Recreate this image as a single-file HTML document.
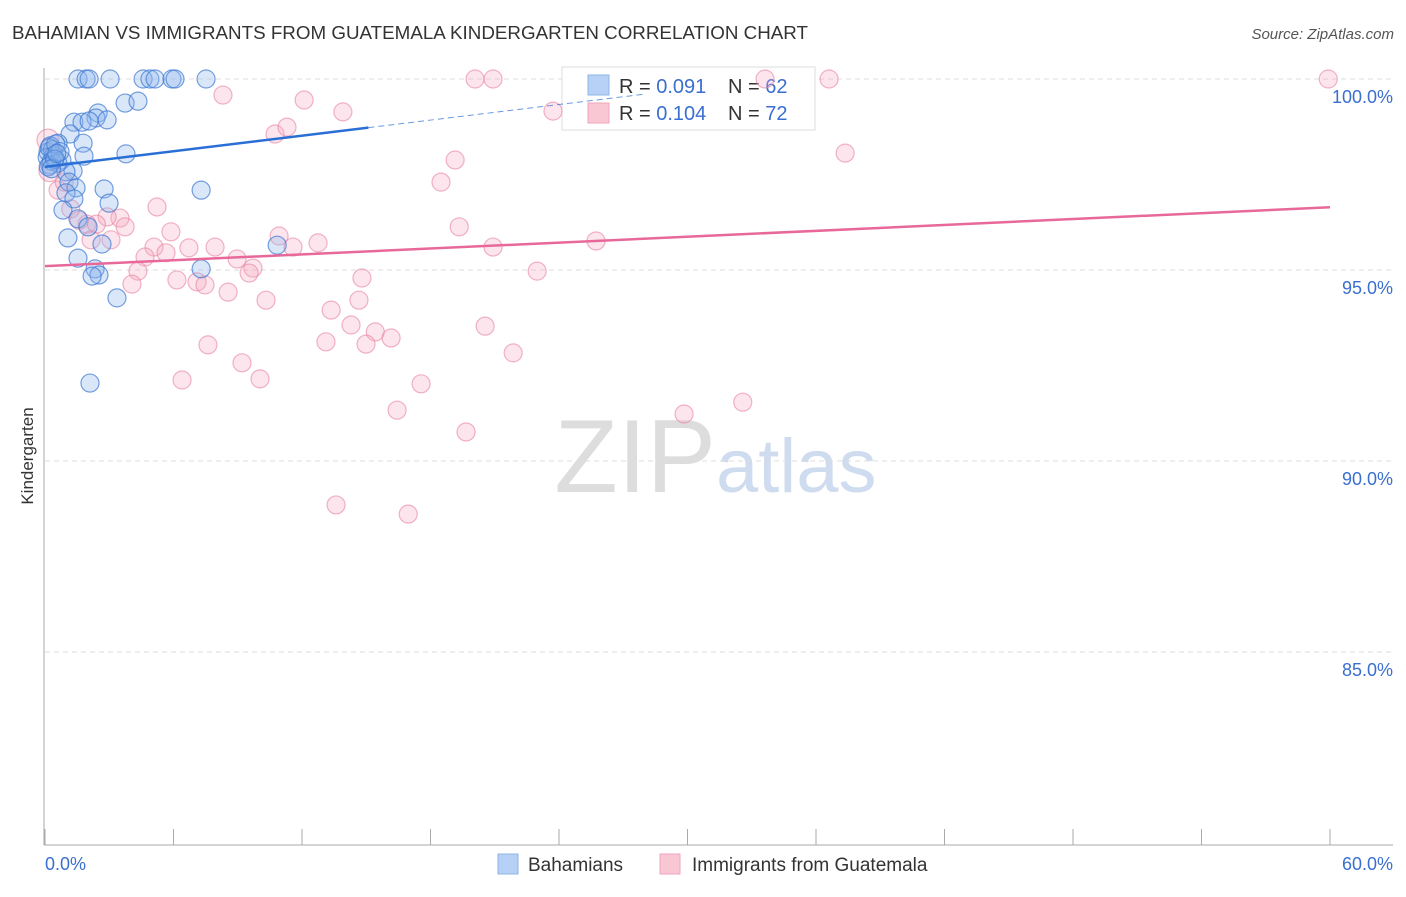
<!DOCTYPE html>
<html><head><meta charset="utf-8"><style>
body{margin:0;background:#fff;font-family:"Liberation Sans",sans-serif}
svg text{font-family:"Liberation Sans",sans-serif}
</style></head><body>
<svg id="chart" width="1406" height="892">
<text x="12" y="39" font-size="18" fill="#333" textLength="796" lengthAdjust="spacingAndGlyphs">BAHAMIAN VS IMMIGRANTS FROM GUATEMALA KINDERGARTEN CORRELATION CHART</text>
<text x="1394" y="39" font-size="15" fill="#555" font-style="italic" text-anchor="end">Source: ZipAtlas.com</text>
<text x="716" y="492" font-size="104" fill="#ddd" text-anchor="end" font-family="Liberation Serif">ZIP</text>
<text x="716" y="492" font-size="76" fill="#cfdcf0">atlas</text>
<text transform="translate(33,456) rotate(-90)" font-size="17" fill="#333" text-anchor="middle">Kindergarten</text>
<g id="grid"></g>
<g>
<rect x="562" y="67" width="253" height="63" fill="#fff" stroke="#ddd"/>
<rect x="588" y="75" width="21" height="20" fill="#b6d1f5" stroke="#8fb5e8"/>
<rect x="588" y="103" width="21" height="20" fill="#f9c6d4" stroke="#eea5bb"/>
<text x="619" y="93" font-size="20" fill="#333">R = <tspan fill="#3a6fd0">0.091</tspan></text>
<text x="728" y="93" font-size="20" fill="#333">N = <tspan fill="#3a6fd0">62</tspan></text>
<text x="619" y="120" font-size="20" fill="#333">R = <tspan fill="#3a6fd0">0.104</tspan></text>
<text x="728" y="120" font-size="20" fill="#333">N = <tspan fill="#3a6fd0">72</tspan></text>
</g>
<g id="pts"></g><g id="lines"></g>
<g>
<rect x="498" y="854" width="20" height="20" fill="#b6d1f5" stroke="#8fb5e8"/>
<text x="528" y="871" font-size="19" fill="#333">Bahamians</text>
<rect x="660" y="854" width="20" height="20" fill="#f9c6d4" stroke="#eea5bb"/>
<text x="692" y="871" font-size="19" fill="#333">Immigrants from Guatemala</text>
</g>
</svg>
<script>
const yTicks=[100,95,90,85];
const xTickLabels=["0.0%","60.0%"];
const blueX=[1.54,1.92,2.06,3.04,4.58,4.90,5.14,5.93,6.07,7.52,3.74,4.34,2.48,2.38,1.35,1.73,2.06,2.90,1.17,1.78,0.61,3.78,0.14,0.47,0.79,1.82,0.23,1.31,0.98,1.12,1.45,2.76,7.29,0.98,1.35,2.99,0.84,1.54,2.01,1.07,2.66,10.84,1.54,2.34,2.52,2.20,7.29,3.36,2.10,0.25,0.35,0.1,0.4,0.6,0.3,0.2,0.5,0.15,0.7,0.45,0.3,0.55];
const blueY=[100,100,100,100,100,100,100,100,100,100,99.37,99.42,99.11,98.98,98.87,98.87,98.9,98.93,98.56,98.32,98.32,98.04,98.09,97.93,97.88,97.98,97.75,97.59,97.57,97.30,97.15,97.12,97.09,97.02,96.86,96.75,96.57,96.34,96.13,95.84,95.68,95.65,95.31,95.03,94.87,94.84,95.03,94.27,92.04,98.25,98.15,97.95,98.0,97.8,97.85,98.2,98.3,97.7,98.1,97.9,97.65,98.05];
const pinkX=[0.14,0.23,8.31,12.10,13.91,20.08,20.92,33.62,36.61,59.92,23.72,10.74,11.30,37.36,19.15,18.49,5.23,0.61,3.50,2.90,1.96,1.6,3.74,5.88,10.93,2.15,3.08,5.09,6.72,7.94,11.58,12.75,19.34,20.92,25.73,4.67,5.65,8.97,9.71,9.53,4.34,6.16,4.06,7.10,7.47,8.55,14.80,22.98,10.32,14.66,13.36,14.29,20.55,15.42,16.16,13.12,14.99,7.61,21.86,9.20,6.40,10.04,17.56,32.58,29.84,16.44,19.66,13.59,16.96,1.2,0.9,2.4];
const pinkY=[98.4,97.6,99.58,99.45,99.14,100,100,100,100,100,99.16,98.56,98.74,98.06,97.88,97.30,96.65,97.09,96.36,96.39,96.2,96.3,96.13,96.0,95.89,95.79,95.79,95.6,95.58,95.6,95.6,95.71,96.13,95.6,95.76,95.34,95.45,95.29,95.05,94.92,94.97,94.74,94.63,94.69,94.61,94.42,94.79,94.97,94.21,94.21,93.95,93.56,93.53,93.38,93.22,93.12,93.06,93.04,92.83,92.57,92.12,92.15,92.02,91.54,91.23,91.33,90.76,88.85,88.61,96.6,97.3,96.2];
const blueFit=[97.7,0.068];
const pinkFit=[95.1,0.0257];
const NS='http://www.w3.org/2000/svg';
const X=v=>45+v/60*1285;
const Y=v=>79+(100-v)*38.2;
function mk(p,t,a){const e=document.createElementNS(NS,t);for(const k in a)e.setAttribute(k,a[k]);p.appendChild(e);return e;}
const grid=document.getElementById('grid');
yTicks.forEach(t=>{
 const l=mk(grid,'line',{x1:45,x2:1393,y1:Y(t),y2:Y(t),stroke:'#ddd','stroke-dasharray':'5,4'});
 
 
 const tx=mk(grid,'text',{x:1393,y:Y(t)+24,'font-size':18,fill:'#3a6fd0','text-anchor':'end'});
 tx.textContent=t.toFixed(1)+'%';
 
 
});
mk(grid,'line',{x1:44,x2:44,y1:68,y2:845,stroke:'#aaa'});
mk(grid,'line',{x1:44,x2:1393,y1:845,y2:845,stroke:'#aaa'});
for(let i=0;i<=10;i++){mk(grid,'line',{x1:X(i*6),x2:X(i*6),y1:829,y2:845,stroke:'#aaa'});}
[0,60].forEach((v,i)=>{const t=mk(grid,'text',{x:i?1393:45,y:870,'font-size':18,fill:'#3a6fd0','text-anchor':i?'end':'start'});t.textContent=xTickLabels[i];
 
 });
const pts=document.getElementById('pts');
pinkX.forEach((x,i)=>{const c=mk(pts,'circle',{cx:X(x),cy:Y(pinkY[i]),r:i<2?11:9,fill:'rgba(246,170,192,0.3)',stroke:'rgba(232,130,160,0.6)','stroke-width':1.2});
 
 });
blueX.forEach((x,i)=>{const c=mk(pts,'circle',{cx:X(x),cy:Y(blueY[i]),r:9,fill:'rgba(140,180,235,0.32)',stroke:'rgba(60,120,210,0.7)','stroke-width':1.2});
 
 });
const lines=document.getElementById('lines');
let b=mk(lines,'line',{x1:X(0),y1:Y(blueFit[0]),x2:X(15.1),y2:Y(blueFit[0]+blueFit[1]*15.1),stroke:'#2a6fd6','stroke-width':2.5});


let bd=mk(lines,'line',{x1:X(15.1),y1:Y(blueFit[0]+blueFit[1]*15.1),x2:X(28),y2:Y(blueFit[0]+blueFit[1]*28),stroke:'#2a6fd6','stroke-width':1,'stroke-dasharray':'6,4','stroke-opacity':0.7});


let p=mk(lines,'line',{x1:X(0),y1:Y(pinkFit[0]),x2:X(60),y2:Y(pinkFit[0]+pinkFit[1]*60),stroke:'#e8689a','stroke-width':2.5});


</script>
</body></html>
